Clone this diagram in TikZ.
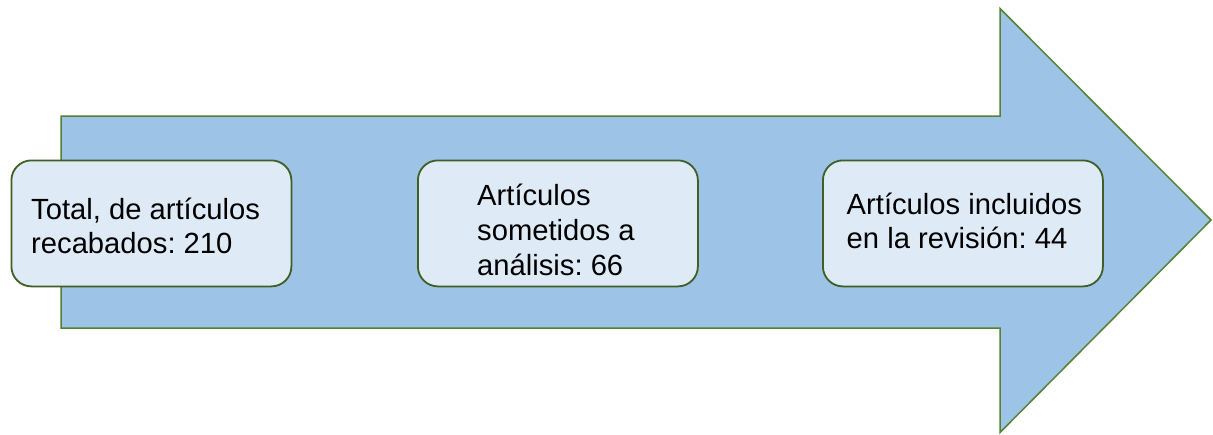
\documentclass[tikz,border=0pt]{standalone}
\usepackage{fontspec}
\setmainfont{Liberation Sans}
\frenchspacing
\definecolor{arrowfill}{HTML}{9DC3E6}
\definecolor{arrowline}{HTML}{548235}
\definecolor{boxfill}{HTML}{DEEBF7}
\definecolor{boxline}{HTML}{3F5F25}
\begin{document}
\begin{tikzpicture}[x=1pt,y=-1pt,
  stagebox/.style={draw=boxline,fill=boxfill,line width=1.8pt,rounded corners=20pt,minimum width=280pt,minimum height=126pt,inner sep=0pt,anchor=north west},
  label/.style={anchor=base west,inner sep=0pt,font=\fontsize{29.2}{34}\selectfont,text=black}]
\useasboundingbox (0,0) rectangle (1213,434);
\fill[white] (0,0) rectangle (1213,434);
\filldraw[fill=arrowfill,draw=arrowline,line width=1.5pt,line join=miter]
  (61,116) -- (1000,116) -- (1000,8.5) -- (1211,220) -- (1000,432.5) -- (1000,328) -- (61,328) -- cycle;
\node[stagebox] (b1) at (10.5,159.5) {};
\node[stagebox] (b2) at (417,159.5) {};
\node[stagebox] (b3) at (822,159.5) {};
\node[label] (t1a) at (31,219) {Total, de artículos};
\node[label] (t1b) at (31,253) {recabados: 210};
\node[label] (t2a) at (477,205.5) {Artículos};
\node[label] (t2b) at (477,240) {sometidos a};
\node[label] (t2c) at (477,275) {análisis: 66};
\node[label] (t3a) at (846.5,214) {Artículos incluidos};
\node[label] (t3b) at (846.5,248) {en la revisión: 44};
\end{tikzpicture}
\end{document}
